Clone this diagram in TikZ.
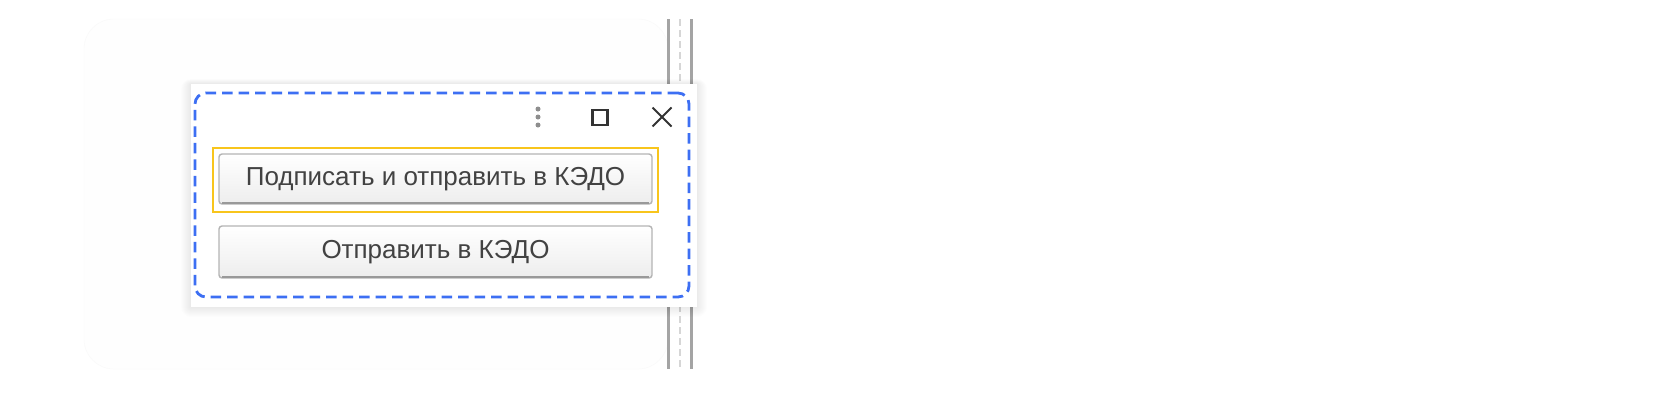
\documentclass[tikz,border=0pt]{standalone}
\usepackage{fontspec}
\setmainfont{Liberation Sans}
\begin{document}
\begin{tikzpicture}[x=1pt,y=-1pt,
  btnbox/.style={draw=btnborder,line width=1.4pt,rounded corners=3pt,top color=white,bottom color=btnbottom,
    minimum width=433pt,minimum height=50pt,inner sep=0pt,outer sep=0pt,
    font=\fontsize{26}{30}\selectfont,text=btntext},
  grayline/.style={draw=lineGray,line width=3pt},
  dashline/.style={draw=lineLight,line width=2pt,dash pattern=on 7pt off 4pt}
]
\definecolor{btnborder}{HTML}{B4B4B4}
\definecolor{btnbottom}{HTML}{EDEDED}
\definecolor{btntext}{HTML}{424242}
\definecolor{lineGray}{HTML}{A4A4A4}
\definecolor{lineLight}{HTML}{D6D6D6}
\definecolor{kedoBlue}{HTML}{3D6FF3}
\definecolor{kedoYellow}{HTML}{F8C51C}
\definecolor{iconDark}{HTML}{333333}
\definecolor{dotGray}{HTML}{8E8E8E}
\definecolor{panelFill}{HTML}{FEFEFE}
\definecolor{panelEdge}{HTML}{F9F9F9}
\useasboundingbox (0,0) rectangle (1653,402);
\fill[white] (0,0) rectangle (1653,402);
% faint background panel
\draw[draw=panelEdge,fill=panelFill,rounded corners=30pt] (84,19) rectangle (668,369);
% vertical separator lines
\coordinate (la1) at (668,19); \coordinate (la2) at (668,369);
\coordinate (lb1) at (679.5,19); \coordinate (lb2) at (679.5,369);
\coordinate (lc1) at (691,19); \coordinate (lc2) at (691,369);
\draw[grayline] (la1) -- (la2);
\draw[dashline] (lb1) -- (lb2);
\draw[grayline] (lc1) -- (lc2);
% popup shadow (soft)
\foreach \s in {1,...,10}{
  \fill[black,opacity=0.006,rounded corners=\s pt] (191-\s,84-\s*0.5) rectangle (697+\s,307+\s);
}
% popup panel
\node[fill=white,minimum width=506pt,minimum height=223pt,inner sep=0pt,outer sep=0pt] (panel) at (444,195.5) {};
% dashed blue frame
\node[draw=kedoBlue,line width=2.8pt,dash pattern=on 10.5pt off 6pt,rounded corners=11pt,
  minimum width=494pt,minimum height=204pt,inner sep=0pt] (frame) at (442,195) {};
% icons
\node[circle,fill=dotGray,minimum size=5pt,inner sep=0pt] (d1) at (538,109) {};
\node[circle,fill=dotGray,minimum size=5pt,inner sep=0pt] (d2) at (538,117) {};
\node[circle,fill=dotGray,minimum size=5pt,inner sep=0pt] (d3) at (538,125) {};
\node[draw=iconDark,line width=2.4pt,minimum size=15pt,inner sep=0pt] (maxbox) at (600,117.5) {};
\coordinate (x1) at (652.5,107.5); \coordinate (x2) at (671.5,126.5);
\coordinate (x3) at (671.5,107.5); \coordinate (x4) at (652.5,126.5);
\draw[iconDark,line width=1.8pt] (x1) -- (x2) (x3) -- (x4);
% yellow highlight
\node[draw=kedoYellow,line width=2pt,minimum width=445pt,minimum height=64pt,inner sep=0pt] (hl) at (435.5,180) {};
% buttons
\node[btnbox] (b1) at (435.5,179) {Подписать и отправить в КЭДО};
\draw[black!40,line width=1.6pt] ([xshift=3pt,yshift=0.8pt]b1.south west) -- ([xshift=-3pt,yshift=0.8pt]b1.south east);
\node[btnbox,minimum height=52pt] (b2) at (435.5,252) {Отправить в КЭДО};
\draw[black!40,line width=1.6pt] ([xshift=3pt,yshift=0.8pt]b2.south west) -- ([xshift=-3pt,yshift=0.8pt]b2.south east);
\end{tikzpicture}
\end{document}
